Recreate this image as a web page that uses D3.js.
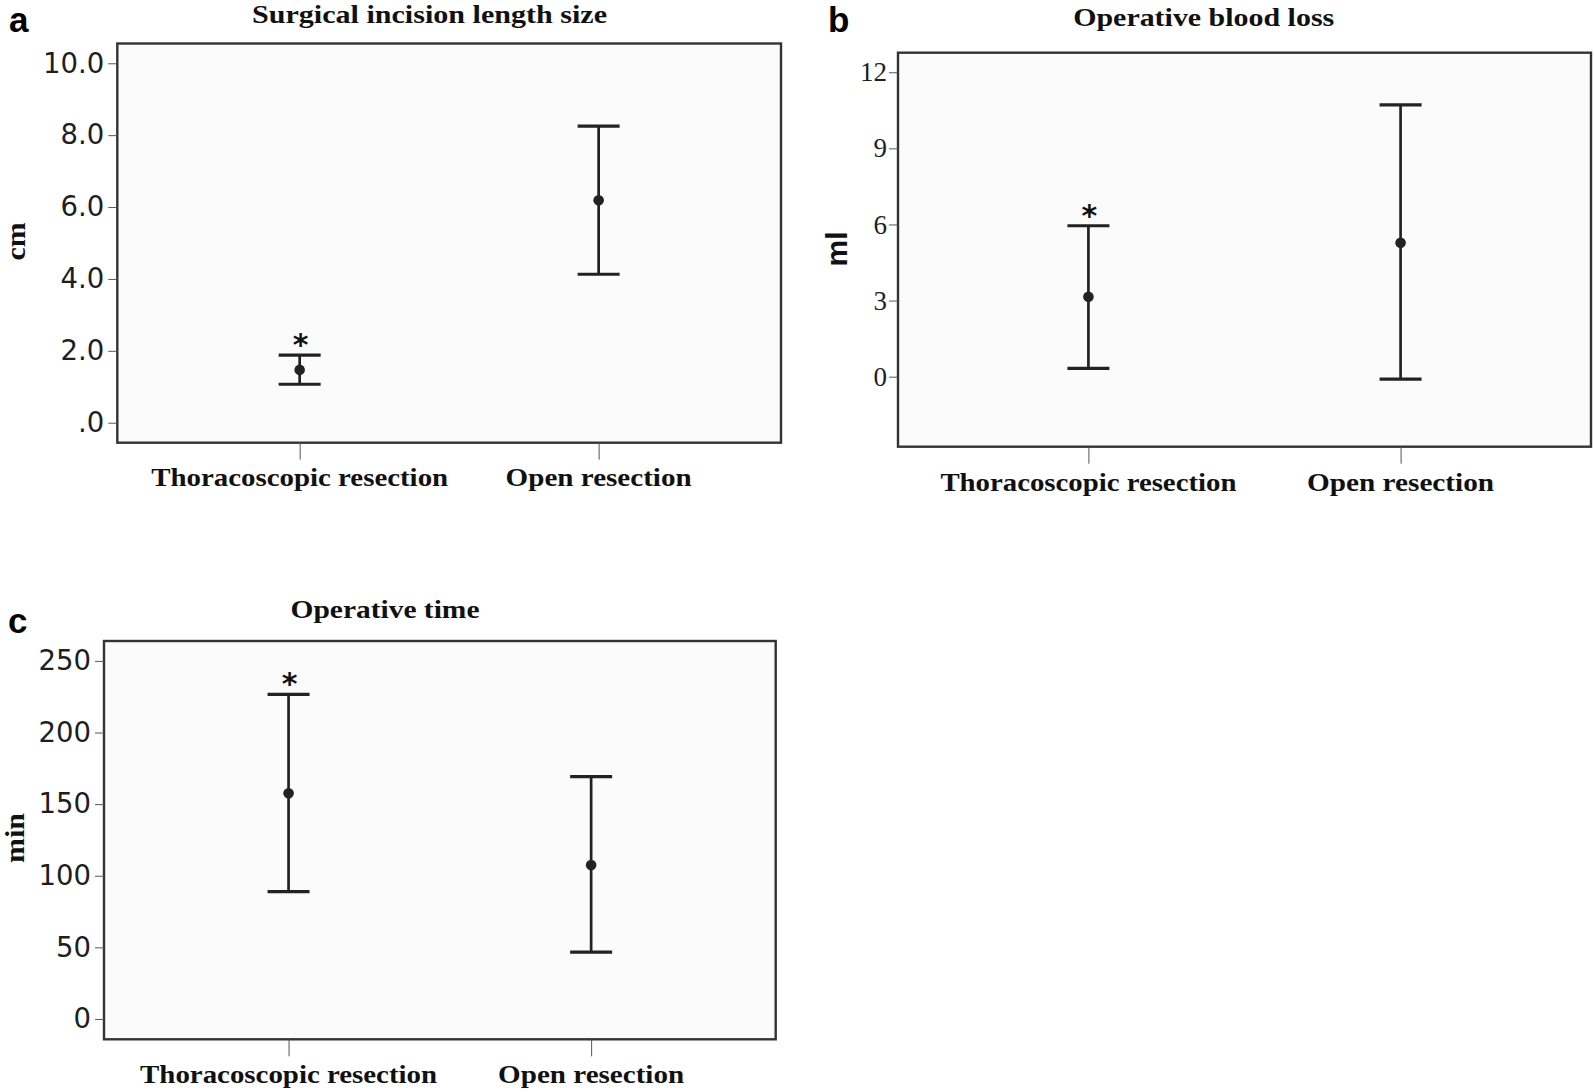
<!DOCTYPE html>
<html>
<head>
<meta charset="utf-8">
<script src="https://cdn.jsdelivr.net/npm/d3@7"></script>
<style>
  html, body { margin: 0; padding: 0; background: #ffffff; }
  svg { display: block; }
</style>
</head>
<body>
<svg id="chart" width="1594" height="1092"></svg>
<script>
// ---------- data ----------
const categories = ["Thoracoscopic resection", "Open resection"];
const significant = [true, false];

const incisionMean = [1.47, 6.19];
const incisionLow  = [1.07, 4.13];
const incisionHigh = [1.88, 8.25];
const incisionTicks = [0, 2, 4, 6, 8, 10];
const incisionTickLabels = [".0", "2.0", "4.0", "6.0", "8.0", "10.0"];

const bloodMean = [3.15, 5.28];
const bloodLow  = [0.33, -0.10];
const bloodHigh = [5.95, 10.71];
const bloodTicks = [0, 3, 6, 9, 12];
const bloodTickLabels = ["0", "3", "6", "9", "12"];

const timeMean = [157.6, 107.5];
const timeLow  = [88.9, 46.6];
const timeHigh = [226.7, 169.2];
const timeTicks = [0, 50, 100, 150, 200, 250];
const timeTickLabels = ["0", "50", "100", "150", "200", "250"];

const titles = ["Surgical incision length size", "Operative blood loss", "Operative time"];
const yLabels = ["cm", "ml", "min"];
const panelLetters = ["a", "b", "c"];

// ---------- layout ----------
const svg = d3.select("#chart");
const SERIF = "'Liberation Serif','Times New Roman',serif";
const SANS = "'Liberation Sans',Arial,sans-serif";
const DEJAVU = "'DejaVu Sans',Verdana,sans-serif";

const panels = [
  {
    mean: incisionMean, low: incisionLow, high: incisionHigh,
    ticks: incisionTicks, tickLabels: incisionTickLabels,
    domain: [-0.556, 10.55],
    box: {x0: 117.3, x1: 781, y0: 43.5, y1: 442.7},
    tickFont: DEJAVU, tickSize: 27.5, tickLen: 9, tickPad: 4,
    title: {cx: 429.5, y: 23, w: 355},
    letter: {x: 9, y: 32},
    ylab: {x: 25, cy: 241.5, w: 38, font: SERIF, size: 28},
    catY: 486, catW: [297, 186]
  },
  {
    mean: bloodMean, low: bloodLow, high: bloodHigh,
    ticks: bloodTicks, tickLabels: bloodTickLabels,
    domain: [-2.76, 12.77],
    box: {x0: 898, x1: 1591, y0: 52.7, y1: 446.7},
    tickFont: SERIF, tickSize: 27, tickLen: 9, tickPad: 2,
    title: {cx: 1203.7, y: 26, w: 261},
    letter: {x: 828, y: 32},
    ylab: {x: 846.5, cy: 249, w: 35, font: SANS, size: 29},
    catY: 491, catW: [296, 187]
  },
  {
    mean: timeMean, low: timeLow, high: timeHigh,
    ticks: timeTicks, tickLabels: timeTickLabels,
    domain: [-14.2, 263.9],
    box: {x0: 104, x1: 775.7, y0: 641, y1: 1039.3},
    tickFont: DEJAVU, tickSize: 27.5, tickLen: 9, tickPad: 4,
    title: {cx: 385, y: 618, w: 189},
    letter: {x: 8, y: 633},
    ylab: {x: 24, cy: 838, w: 50, font: SERIF, size: 28},
    catY: 1083, catW: [297, 186]
  }
];

panels.forEach((p, pi) => {
  const b = p.box;
  const g = svg.append("g");

  const x = d3.scalePoint().domain(categories).range([b.x0, b.x1]).padding(0.61);
  const y = d3.scaleLinear().domain(p.domain).range([b.y1, b.y0]);

  // plot background + frame
  g.append("rect")
    .attr("x", b.x0).attr("y", b.y0)
    .attr("width", b.x1 - b.x0).attr("height", b.y1 - b.y0)
    .attr("fill", "#fbfbfb").attr("stroke", "#333").attr("stroke-width", 2.4);

  // y axis
  const yAxis = d3.axisLeft(y)
    .tickValues(p.ticks)
    .tickFormat((d, i) => p.tickLabels[i])
    .tickSize(p.tickLen)
    .tickPadding(p.tickPad);
  const ya = g.append("g").attr("transform", `translate(${b.x0},0)`).call(yAxis);
  ya.select(".domain").remove();
  ya.selectAll(".tick line").attr("stroke", "#555").attr("stroke-width", 1);
  ya.selectAll(".tick text")
    .attr("font-family", p.tickFont).attr("font-size", p.tickSize)
    .attr("fill", "#1e1e1e");

  // x axis ticks (no labels)
  const xAxis = d3.axisBottom(x).tickSize(17).tickFormat("");
  const xa = g.append("g").attr("transform", `translate(0,${b.y1})`).call(xAxis);
  xa.select(".domain").remove();
  xa.selectAll(".tick line").attr("stroke", "#555").attr("stroke-width", 1);

  // category labels
  g.selectAll("text.cat").data(categories).enter().append("text")
    .attr("class", "cat")
    .attr("x", d => x(d)).attr("y", p.catY)
    .attr("text-anchor", "middle")
    .attr("font-family", SERIF).attr("font-weight", "bold").attr("font-size", 25.5)
    .attr("textLength", (d, i) => p.catW[i]).attr("lengthAdjust", "spacingAndGlyphs")
    .attr("fill", "#111")
    .text(d => d);

  // error bars
  const capHalf = 21;
  const rows = categories.map((c, i) => ({c, m: p.mean[i], lo: p.low[i], hi: p.high[i], sig: significant[i]}));
  const eb = g.selectAll("g.eb").data(rows).enter().append("g").attr("class", "eb");
  eb.append("line")
    .attr("x1", d => x(d.c)).attr("x2", d => x(d.c))
    .attr("y1", d => y(d.lo)).attr("y2", d => y(d.hi))
    .attr("stroke", "#222").attr("stroke-width", 2.7);
  eb.append("line")
    .attr("x1", d => x(d.c) - capHalf).attr("x2", d => x(d.c) + capHalf)
    .attr("y1", d => y(d.hi)).attr("y2", d => y(d.hi))
    .attr("stroke", "#222").attr("stroke-width", 3.2);
  eb.append("line")
    .attr("x1", d => x(d.c) - capHalf).attr("x2", d => x(d.c) + capHalf)
    .attr("y1", d => y(d.lo)).attr("y2", d => y(d.lo))
    .attr("stroke", "#222").attr("stroke-width", 3.2);
  eb.append("circle")
    .attr("cx", d => x(d.c)).attr("cy", d => y(d.m)).attr("r", 5.3)
    .attr("fill", "#222");
  eb.filter(d => d.sig).append("text")
    .attr("x", d => x(d.c) + 1).attr("y", d => y(d.hi))
    .attr("text-anchor", "middle")
    .attr("font-family", DEJAVU).attr("font-weight", "bold").attr("font-size", 30)
    .attr("fill", "#111")
    .text("*");

  // title
  svg.append("text")
    .attr("x", p.title.cx).attr("y", p.title.y)
    .attr("text-anchor", "middle")
    .attr("font-family", SERIF).attr("font-weight", "bold").attr("font-size", 25)
    .attr("textLength", p.title.w).attr("lengthAdjust", "spacingAndGlyphs")
    .attr("fill", "#111")
    .text(titles[pi]);

  // y label
  svg.append("text")
    .attr("transform", `translate(${p.ylab.x},${p.ylab.cy}) rotate(-90)`)
    .attr("text-anchor", "middle")
    .attr("font-family", p.ylab.font).attr("font-weight", "bold").attr("font-size", p.ylab.size)
    .attr("textLength", p.ylab.w).attr("lengthAdjust", "spacingAndGlyphs")
    .attr("fill", "#111")
    .text(yLabels[pi]);

  // panel letter
  svg.append("text")
    .attr("x", p.letter.x).attr("y", p.letter.y)
    .attr("font-family", SANS).attr("font-weight", "bold").attr("font-size", 35)
    .attr("fill", "#000")
    .text(panelLetters[pi]);
});
</script>
</body>
</html>
